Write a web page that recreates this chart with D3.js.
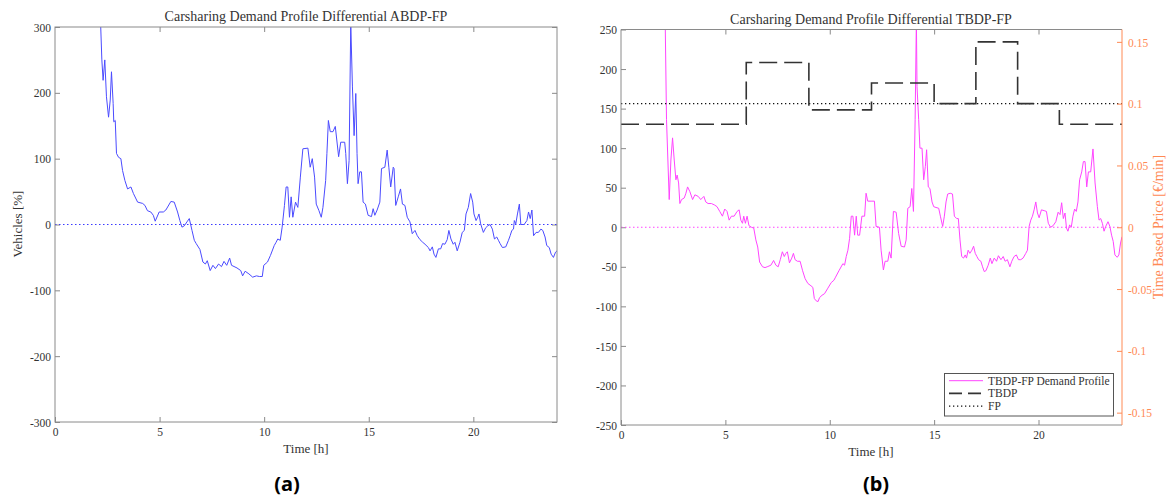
<!DOCTYPE html>
<html>
<head>
<meta charset="utf-8">
<script src="https://cdn.jsdelivr.net/npm/d3@7"></script>
<style>
  html, body { margin: 0; padding: 0; background: #fff; }
  svg { display: block; }
  text { font-family: "Liberation Serif", "Times New Roman", serif; fill: #333; }
</style>
</head>
<body>
<svg id="chart" width="1173" height="497"></svg>
<script>
// ---------------- DATA ----------------
const xTicks = [0, 5, 10, 15, 20];
const leftYTicks = [-300, -200, -100, 0, 100, 200, 300];
const rightYTicks = [-250, -200, -150, -100, -50, 0, 50, 100, 150, 200, 250];
const priceTicks = [-0.15, -0.1, -0.05, 0, 0.05, 0.1, 0.15];

// (a) ABDP-FP demand profile differential [%]
const abdpTime = [2.10,2.24,2.30,2.38,2.46,2.56,2.64,2.70,2.78,2.81,2.88,2.94,3.04,3.15,3.23,3.34,3.47,3.63,3.75,3.95,4.19,4.30,4.42,4.58,4.70,4.79,4.98,5.18,5.30,5.54,5.70,5.86,5.97,6.07,6.18,6.31,6.42,6.55,6.66,6.75,6.93,7.07,7.19,7.28,7.42,7.55,7.67,7.82,7.96,8.08,8.21,8.35,8.44,8.70,8.88,8.97,9.09,9.27,9.45,9.63,9.77,9.91,9.98,10.16,10.30,10.48,10.57,10.65,10.77,10.86,10.97,11.05,11.13,11.21,11.29,11.37,11.50,11.61,11.73,11.85,12.09,12.20,12.30,12.41,12.49,12.62,12.73,12.81,12.94,13.00,13.07,13.16,13.29,13.40,13.56,13.66,13.85,13.90,13.98,14.06,14.14,14.22,14.30,14.38,14.44,14.49,14.57,14.65,14.73,14.84,14.97,15.13,15.21,15.29,15.40,15.53,15.61,15.77,15.88,15.96,16.05,16.17,16.21,16.29,16.41,16.52,16.61,16.73,16.84,16.97,17.08,17.21,17.32,17.45,17.58,17.69,17.85,17.93,18.04,18.12,18.21,18.33,18.44,18.53,18.64,18.75,18.83,18.93,19.04,19.12,19.23,19.36,19.47,19.57,19.65,19.76,19.87,19.97,20.03,20.13,20.21,20.27,20.35,20.48,20.59,20.69,20.80,20.91,21.01,21.12,21.20,21.28,21.39,21.55,21.68,21.76,21.84,21.92,21.96,22.03,22.11,22.20,22.27,22.43,22.56,22.64,22.72,22.80,22.88,23.00,23.11,23.23,23.32,23.43,23.51,23.63,23.72,23.83,23.93,24.00];
const abdpValue = [380,250,219,250,194,163,189,232,184,156,158,108,102,100,82,67,54,57,47,34,32,29,21,19,14,5,19,19,22,35,34,19,6,-4,-2,4,9,-9,-24,-29,-38,-57,-60,-55,-70,-62,-67,-60,-64,-56,-62,-51,-62,-66,-70,-78,-71,-75,-80,-78,-79,-79,-62,-57,-47,-32,-27,-22,-24,-4,29,57,57,11,42,11,34,26,72,115,116,87,100,72,31,21,11,26,67,108,158,141,141,149,103,125,125,108,62,97,305,209,135,199,108,62,80,80,34,31,14,12,24,14,22,34,85,87,113,87,57,87,85,29,42,54,31,29,11,4,-14,-9,-17,-23,-27,-30,-35,-40,-34,-45,-50,-37,-37,-29,-30,-23,-9,-22,-30,-27,-40,-27,-12,-9,16,26,47,34,16,6,11,16,1,-12,-5,-2,0,-7,-22,-19,-24,-29,-35,-34,-24,-17,-9,-7,6,1,16,31,0,0,6,19,9,22,-17,-12,-12,-7,-9,-19,-32,-35,-45,-50,-42,-40];

// (b) TBDP-FP demand profile differential [%]
const tbdpTime = [2.05,2.12,2.18,2.31,2.39,2.47,2.55,2.63,2.69,2.76,2.82,2.90,3.03,3.11,3.19,3.30,3.43,3.54,3.70,3.82,3.97,4.06,4.17,4.33,4.49,4.60,4.73,4.86,4.97,5.08,5.18,5.29,5.42,5.56,5.66,5.74,5.82,5.88,5.96,6.04,6.13,6.25,6.36,6.46,6.55,6.64,6.78,6.90,7.00,7.18,7.31,7.42,7.53,7.63,7.73,7.82,7.90,7.97,8.07,8.18,8.26,8.34,8.45,8.58,8.70,8.82,8.95,9.10,9.19,9.26,9.35,9.44,9.51,9.63,9.75,9.91,10.07,10.20,10.26,10.44,10.63,10.71,10.79,10.87,10.95,11.03,11.11,11.19,11.27,11.34,11.43,11.54,11.67,11.74,11.82,11.98,12.14,12.22,12.38,12.46,12.57,12.65,12.78,12.86,12.94,13.05,13.18,13.30,13.42,13.58,13.66,13.74,13.85,13.93,14.01,14.09,14.15,14.18,14.26,14.32,14.42,14.50,14.58,14.64,14.72,14.80,14.90,14.98,15.09,15.22,15.30,15.41,15.49,15.57,15.65,15.77,15.88,15.97,16.08,16.16,16.24,16.32,16.41,16.49,16.55,16.63,16.71,16.81,16.89,16.97,17.05,17.13,17.24,17.32,17.40,17.48,17.59,17.69,17.77,17.88,17.99,18.08,18.20,18.31,18.40,18.51,18.63,18.72,18.83,18.94,19.04,19.15,19.26,19.39,19.47,19.55,19.63,19.71,19.79,19.87,19.95,20.03,20.14,20.27,20.38,20.47,20.58,20.70,20.83,20.94,21.03,21.11,21.19,21.27,21.34,21.41,21.49,21.57,21.65,21.73,21.81,21.89,21.97,22.07,22.15,22.23,22.31,22.39,22.50,22.61,22.71,22.82,22.90,22.98,23.06,23.14,23.22,23.33,23.42,23.50,23.58,23.66,23.77,23.85,23.93,24.00];
const tbdpValue = [330,255,136,35,85,113,85,60,66,56,30,35,37,43,51,45,35,41,39,35,39,32,30,30,28,26,20,14,23,20,9,14,14,20,22,9,5,14,5,14,2,0,-1,-16,-25,-44,-50,-51,-50,-48,-42,-48,-50,-41,-31,-37,-33,-31,-45,-39,-33,-41,-43,-43,-55,-65,-71,-74,-76,-90,-93,-94,-89,-86,-84,-77,-70,-67,-64,-55,-46,-48,-37,-29,-14,14,14,-10,14,-10,-10,14,14,43,33,33,33,1,0,-29,-54,-43,-43,-31,-39,20,19,-8,-24,-25,-16,24,26,49,20,136,262,178,136,100,100,60,77,98,51,49,32,26,25,24,14,1,14,32,42,43,42,14,11,11,-16,-37,-39,-35,-39,-29,-33,-29,-24,-33,-37,-41,-43,-50,-56,-55,-48,-39,-46,-39,-43,-36,-41,-37,-43,-41,-50,-43,-37,-35,-41,-41,-39,-33,-29,1,9,14,22,32,18,12,22,21,20,5,0,2,7,19,16,31,11,18,-1,-5,3,0,14,23,20,32,60,70,83,83,51,70,70,99,56,26,9,11,5,-5,1,7,1,-10,-18,-35,-38,-35,-20,-12];

// Time based prices [EUR/min]
const priceTime = [0, 6, 9, 12, 15, 17, 19, 21, 24];
const tbdpPrice = [0.0833, 0.1333, 0.095, 0.1167, 0.1, 0.15, 0.1, 0.0833, 0.0833];
const fpTime = [0, 24];
const fpPrice = [0.1, 0.1];

// ---------------- DRAWING ----------------
const svg = d3.select("#chart");
const axisGrey = "#8a8a8a";
const orange = "#ff8a55";

function styleAxis(g, color) {
  g.select(".domain").remove();
  g.selectAll(".tick line").attr("stroke", color || axisGrey).attr("stroke-width", 1);
  g.selectAll(".tick text").attr("font-family", "Liberation Serif").attr("font-size", 11.5)
    .attr("fill", color || "#333").style("fill", color || "#333");
}

function panel(opts) {
  const { x0, x1, y0, y1, yDomain, yTicks, id } = opts;
  const x = d3.scaleLinear().domain([0, 24]).range([x0, x1]);
  const y = d3.scaleLinear().domain(yDomain).range([y1, y0]);
  const g = svg.append("g");

  svg.append("clipPath").attr("id", id).append("rect")
    .attr("x", x0).attr("y", y0).attr("width", x1 - x0).attr("height", y1 - y0);

  const gb = g.append("g").attr("transform", `translate(0,${y1})`)
    .call(d3.axisBottom(x).tickValues(xTicks).tickSize(-5).tickPadding(6).tickFormat(d => String(d)));
  styleAxis(gb);
  const gt = g.append("g").attr("transform", `translate(0,${y0})`)
    .call(d3.axisTop(x).tickValues(xTicks.filter(d => d > 0)).tickSize(-5).tickFormat(""));
  styleAxis(gt);
  const gl = g.append("g").attr("transform", `translate(${x0},0)`)
    .call(d3.axisLeft(y).tickValues(yTicks).tickSize(-5).tickPadding(4).tickFormat(d => String(d)));
  styleAxis(gl);
  gl.selectAll(".tick text").attr("dy", "0.36em");

  return { x, y, g };
}

// ----- Panel (a) -----
const A = panel({ x0: 55, x1: 557, y0: 27, y1: 422, yDomain: [-300, 300], yTicks: leftYTicks, id: "clipA" });
const gra = A.g.append("g").attr("transform", `translate(557,0)`)
  .call(d3.axisRight(A.y).tickValues(leftYTicks).tickSize(-5).tickFormat(""));
styleAxis(gra);

A.g.append("line").attr("x1", A.x(0)).attr("x2", A.x(24)).attr("y1", A.y(0)).attr("y2", A.y(0))
  .attr("stroke", "#3a3aff").attr("stroke-width", 1).attr("stroke-dasharray", "1.5,2.5");

const lineA = d3.line().x((d, i) => A.x(abdpTime[i])).y(d => A.y(d));
A.g.append("path").datum(abdpValue).attr("d", lineA).attr("fill", "none")
  .attr("stroke", "#4b4bff").attr("stroke-width", 1).attr("clip-path", "url(#clipA)");

A.g.append("rect").attr("x", 55).attr("y", 27).attr("width", 502).attr("height", 395)
  .attr("fill", "none").attr("stroke", axisGrey).attr("stroke-width", 1);

svg.append("text").attr("x", 306).attr("y", 21).attr("text-anchor", "middle").attr("font-size", 14)
  .text("Carsharing Demand Profile Differential ABDP-FP");
svg.append("text").attr("x", 306).attr("y", 453).attr("text-anchor", "middle").attr("font-size", 13)
  .text("Time [h]");
svg.append("text").attr("transform", "translate(22,224) rotate(-90)").attr("text-anchor", "middle")
  .attr("font-size", 13).text("Vehicles [%]");
svg.append("text").attr("x", 287).attr("y", 491).attr("text-anchor", "middle")
  .style("font-family", "'Noto Sans', sans-serif")
  .attr("font-weight", "bold").attr("font-size", 20).style("fill", "#000")
  .text("(a)");

// ----- Panel (b) -----
const B = panel({ x0: 621, x1: 1122, y0: 29.5, y1: 425, yDomain: [-250, 250], yTicks: rightYTicks, id: "clipB" });
const yP = d3.scaleLinear().domain([-0.16, 0.16]).range([425, 29.5]);

B.g.append("line").attr("x1", B.x(0)).attr("x2", B.x(24)).attr("y1", B.y(0)).attr("y2", B.y(0))
  .attr("stroke", "#ff44ff").attr("stroke-width", 1).attr("stroke-dasharray", "1.5,2.5");

const lineB = d3.line().x((d, i) => B.x(tbdpTime[i])).y(d => B.y(d));
B.g.append("path").datum(tbdpValue).attr("d", lineB).attr("fill", "none")
  .attr("stroke", "#ff44ff").attr("stroke-width", 1).attr("clip-path", "url(#clipB)");

const lineFP = d3.line().x((d, i) => B.x(fpTime[i])).y(d => yP(d));
B.g.append("path").datum(fpPrice).attr("d", lineFP).attr("fill", "none")
  .attr("stroke", "#111").attr("stroke-width", 1.3).attr("stroke-dasharray", "1.3,2.7");

const lineT = d3.line().curve(d3.curveStepAfter).x((d, i) => B.x(priceTime[i])).y(d => yP(d));
B.g.append("path").datum(tbdpPrice).attr("d", lineT).attr("fill", "none")
  .attr("stroke", "#333").attr("stroke-width", 1.6).attr("stroke-dasharray", "18,7");

B.g.append("path").attr("d", `M1122,29.5 H621 V425 H1122`).attr("fill", "none")
  .attr("stroke", axisGrey).attr("stroke-width", 1);

const grb = B.g.append("g").attr("transform", `translate(1122,0)`)
  .call(d3.axisRight(yP).tickValues(priceTicks).tickSize(-5).tickPadding(6).tickFormat(d => String(d)));
styleAxis(grb, orange);
grb.selectAll(".tick text").attr("dy", "0.36em");
B.g.append("line").attr("x1", 1122).attr("x2", 1122).attr("y1", 29.5).attr("y2", 425)
  .attr("stroke", orange).attr("stroke-width", 1);

svg.append("text").attr("x", 871).attr("y", 23.5).attr("text-anchor", "middle").attr("font-size", 14)
  .text("Carsharing Demand Profile Differential TBDP-FP");
svg.append("text").attr("x", 871).attr("y", 456).attr("text-anchor", "middle").attr("font-size", 13)
  .text("Time [h]");
svg.append("text").attr("transform", "translate(1163,227) rotate(-90)").attr("text-anchor", "middle")
  .attr("font-size", 14).style("fill", orange).text("Time Based Price [€/min]");
svg.append("text").attr("x", 876).attr("y", 491).attr("text-anchor", "middle")
  .style("font-family", "'Noto Sans', sans-serif")
  .attr("font-weight", "bold").attr("font-size", 20).style("fill", "#000")
  .text("(b)");

// legend
const lg = svg.append("g");
lg.append("rect").attr("x", 944.5).attr("y", 373.5).attr("width", 169).attr("height", 42.5)
  .attr("fill", "#fff").attr("stroke", "#555").attr("stroke-width", 1);
const legendItems = [
  { label: "TBDP-FP Demand Profile", stroke: "#ff44ff", w: 1, dash: null },
  { label: "TBDP", stroke: "#333", w: 1.6, dash: "13,6" },
  { label: "FP", stroke: "#111", w: 1.3, dash: "1.3,2.7" }
];
legendItems.forEach((it, i) => {
  const yy = 380.7 + i * 12.7;
  lg.append("line").attr("x1", 949).attr("x2", 983).attr("y1", yy).attr("y2", yy)
    .attr("stroke", it.stroke).attr("stroke-width", it.w).attr("stroke-dasharray", it.dash);
  lg.append("text").attr("x", 988).attr("y", yy).attr("dy", "0.35em").attr("font-size", 11.5)
    .text(it.label);
});
</script>
</body>
</html>
